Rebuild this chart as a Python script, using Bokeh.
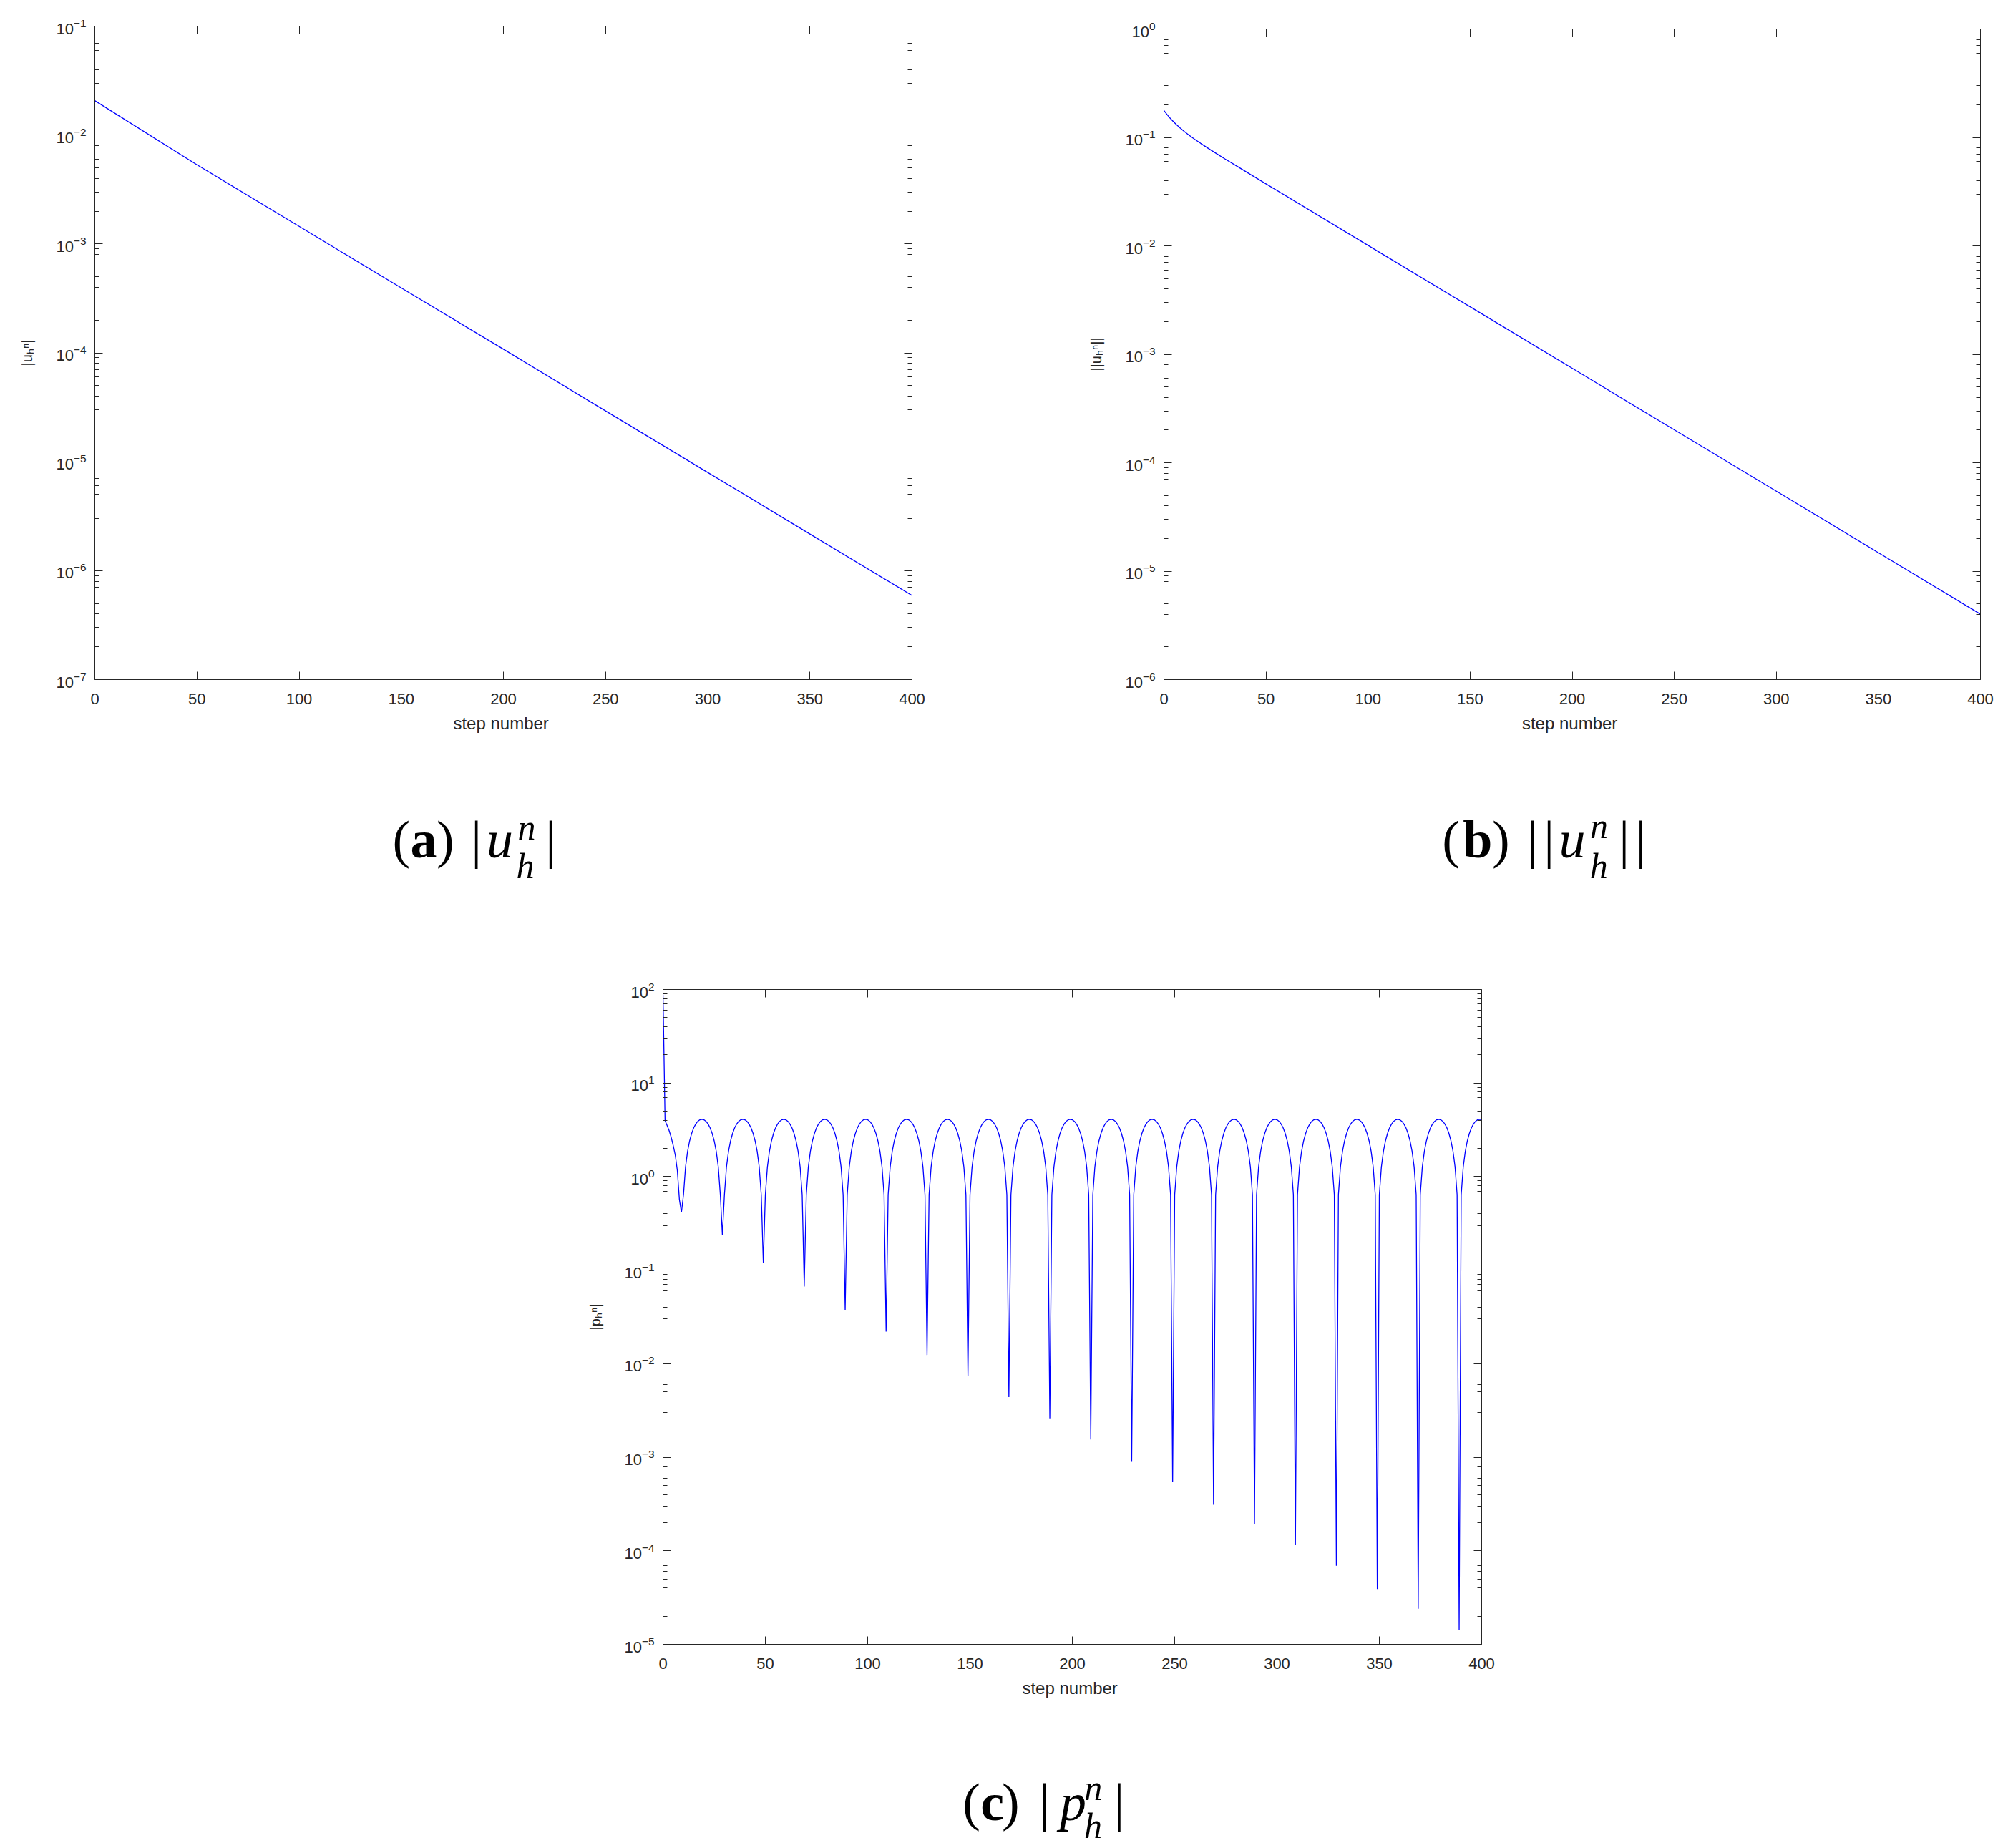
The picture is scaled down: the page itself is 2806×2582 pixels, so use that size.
import numpy as np
from bokeh.plotting import figure
from bokeh.models import (Range1d, FixedTicker, LogAxis, LinearAxis, Label,
                          CustomJSTickFormatter)
from bokeh.layouts import column, row
from bokeh.embed import file_html
from bokeh.resources import INLINE

# ------------------------------------------------------------------ data
x_ticks = [0, 50, 100, 150, 200, 250, 300, 350, 400]

# (a) |u_h^n|
steps_a = [0, 50, 100, 150, 200, 250, 300, 350, 400]
u_abs = [2.07e-2, 5.33e-3, 1.45e-3, 3.95e-4, 1.08e-4, 2.93e-5, 7.98e-6, 2.17e-6, 5.92e-7]

# (b) ||u_h^n||
steps_b = [0, 1, 2, 3, 4, 5, 6, 8, 10, 12, 15, 18, 22, 26, 30, 36, 42, 50,
           100, 150, 200, 250, 300, 350, 400]
u_norm = [0.1770, 0.1672, 0.1585, 0.1508, 0.1439, 0.1376, 0.1319, 0.1220, 0.1134,
          0.1060, 0.0964, 0.0881, 0.0786, 0.0704, 0.0632, 0.0539, 0.0460, 0.0373,
          1.01e-2, 2.74e-3, 7.43e-4, 2.01e-4, 5.46e-5, 1.48e-5, 4.01e-6]

# (c) |p_h^n|  (read at every step)
p_start = [88.0, 3.96, 3.52, 3.10, 2.63, 2.14, 1.69, 1.16, 0.57]     # steps 0..8
dip_steps = [9, 29, 49, 69, 89, 109, 129, 149, 169, 189, 209, 229, 249, 269,
             289, 309, 329, 349, 369, 389]
dip_values = [0.415, 0.238, 0.12, 0.067, 0.037, 0.022, 0.0124, 0.0074, 0.0044,
              0.0026, 0.00155, 0.00091, 0.00054, 0.00031, 0.000195, 0.000115,
              0.000069, 0.000039, 0.000024, 0.0000141]
arch_profile = [0.64, 1.27, 1.86, 2.41, 2.90, 3.32, 3.65, 3.90, 4.05, 4.10]  # 1..10 steps from a dip

decades_a = [1e-7, 1e-6, 1e-5, 1e-4, 1e-3, 1e-2, 1e-1]
decades_b = [1e-6, 1e-5, 1e-4, 1e-3, 1e-2, 1e-1, 1e0]
decades_c = [1e-5, 1e-4, 1e-3, 1e-2, 1e-1, 1e0, 1e1, 1e2]

steps_c = list(range(0, 401))
p_abs = []
for n in steps_c:
    if n < dip_steps[0]:
        p_abs.append(p_start[n])
    else:
        k, r = divmod(n - dip_steps[0], 20)
        if r == 0:
            p_abs.append(dip_values[k])
        else:
            p_abs.append(arch_profile[min(r, 20 - r) - 1])

# ------------------------------------------------------------------ style
AX = "#262626"
SANS = "Liberation Sans"
SERIF = "Liberation Serif"


def minors(decades):
    out = []
    for d in decades[:-1]:
        for k in range(2, 10):
            out.append(k * d)
    return out


def style_axis(ax, minor=False):
    ax.axis_line_color = AX
    ax.axis_line_width = 1
    ax.major_tick_line_color = AX
    ax.major_tick_in = 11
    ax.major_tick_out = 0
    if minor:
        ax.minor_tick_line_color = AX
        ax.minor_tick_in = 6
        ax.minor_tick_out = 0
    else:
        ax.minor_tick_line_color = None
    ax.major_label_text_color = AX
    ax.major_label_text_font = SANS
    ax.axis_label_text_font = SANS
    ax.axis_label_text_font_style = "normal"
    ax.axis_label_text_color = AX


def make_plot(steps, vals, decades, fw, fh, bl, br, bt, bb, ylabel):
    p = figure(frame_width=fw, frame_height=fh, title=None,
               x_range=Range1d(0, 400), y_range=Range1d(decades[0], decades[-1]),
               y_axis_type="log", output_backend="svg", toolbar_location=None,
               min_border_left=bl, min_border_right=br,
               min_border_top=bt, min_border_bottom=bb)
    p.outline_line_color = None
    p.xgrid.visible = False
    p.ygrid.visible = False
    p.background_fill_color = "white"
    p.border_fill_color = "white"

    p.line(steps, vals, line_color="#0000ff", line_width=1.3)

    xa = p.below[0]
    ya = p.left[0]
    xa.ticker = FixedTicker(ticks=x_ticks)
    ya.ticker = FixedTicker(ticks=decades, minor_ticks=minors(decades))
    style_axis(xa, minor=False)
    style_axis(ya, minor=True)
    xa.major_label_text_font_size = "22px"
    xa.major_label_standoff = 19
    xa.axis_label = "step  number"
    xa.axis_label_text_font_size = "24px"
    xa.axis_label_standoff = 10
    ya.major_label_text_font_size = "22px"
    ya.major_label_standoff = 12
    ya.axis_label = ylabel
    ya.axis_label_text_font_size = "20px"
    ya.axis_label_standoff = 26

    top = LinearAxis(ticker=FixedTicker(ticks=x_ticks),
                     formatter=CustomJSTickFormatter(code="return ''"))
    style_axis(top, minor=False)
    top.major_label_standoff = 0
    right = LogAxis(ticker=FixedTicker(ticks=decades, minor_ticks=minors(decades)),
                    formatter=CustomJSTickFormatter(code="return ''"))
    style_axis(right, minor=True)
    right.major_label_standoff = 0
    p.add_layout(top, "above")
    p.add_layout(right, "right")
    return p


def caption_fig(fw, h, bl, br, parts):
    # x positions are measured from the left edge of the plot frame above
    c = figure(frame_width=fw, frame_height=h, title=None, output_backend="svg",
               toolbar_location=None, min_border_left=bl, min_border_right=br,
               min_border_top=0, min_border_bottom=0,
               x_axis_location=None, y_axis_location=None,
               x_range=Range1d(0, fw), y_range=Range1d(0, h))
    c.outline_line_color = None
    c.xgrid.visible = False
    c.ygrid.visible = False
    c.background_fill_color = "white"
    c.border_fill_color = "white"
    for text, x, y, style, size in parts:
        c.add_layout(Label(x=x, y=y, x_units="screen", y_units="screen", text=text,
                           text_font=SERIF, text_font_style=style,
                           text_font_size=f"{size}px", text_color="black",
                           text_align="left", text_baseline="alphabetic"))
    return c


# plots (frame sizes and borders in pixels)
pa = make_plot(steps_a, u_abs, decades_a, 1142, 913, 132, 126, 36, 111, "|u\u2095\u207f|")
pb = make_plot(steps_b, u_norm, decades_b, 1141, 909, 226, 35, 40, 111, "||u\u2095\u207f||")
pc = make_plot(steps_c, p_abs, decades_c, 1144, 915, 926, 732, 82, 113, "|p\u2095\u207f|")

M, S = 74, 50
cap_a = caption_fig(1142, 240, 132, 126, [
    ("(", 416, 128, "normal", M), ("a", 441, 128, "bold", M),
    (")", 477.5, 128, "normal", M), ("|", 525.7, 128, "normal", M),
    ("u", 547.5, 128, "italic", M), ("n", 591, 145, "italic", S),
    ("h", 589, 91, "italic", S), ("|", 629.7, 128, "normal", M)])
cap_b = caption_fig(1141, 240, 226, 35, [
    ("(", 388.7, 128, "normal", M), ("b", 417.7, 128, "bold", M),
    (")", 458.6, 128, "normal", M), ("|", 507.3, 128, "normal", M),
    ("|", 530.7, 128, "normal", M), ("u", 551.9, 128, "italic", M),
    ("n", 595.4, 147, "italic", S), ("h", 595.2, 91, "italic", S),
    ("|", 635.7, 128, "normal", M), ("|", 659.1, 128, "normal", M)])
cap_c = caption_fig(1144, 170, 926, 732, [
    ("(", 418.7, 63, "normal", M), ("c", 443.8, 63, "bold", M),
    (")", 473.6, 63, "normal", M), ("|", 525.7, 63, "normal", M),
    ("p", 554.5, 63, "italic", M), ("n", 588.7, 83, "italic", S),
    ("h", 588.5, 30, "italic", S), ("|", 630, 63, "normal", M)])

layout = column(row(column(pa, cap_a), column(pb, cap_b)), column(pc, cap_c))
open("out.html", "w").write(file_html(layout, INLINE))
